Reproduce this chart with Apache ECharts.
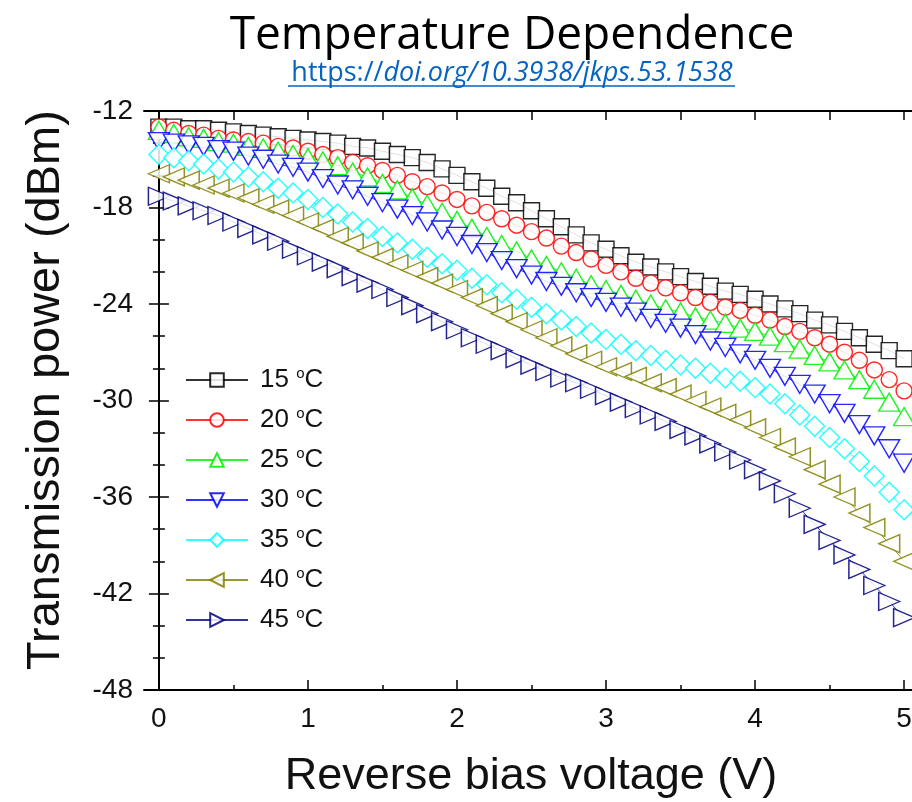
<!DOCTYPE html>
<html>
<head>
<meta charset="utf-8">
<script src="https://cdn.jsdelivr.net/npm/echarts@6/dist/echarts.min.js"></script>
<style>
html,body{margin:0;padding:0;background:#fff;}
#chart{width:912px;height:802px;}
</style>
</head>
<body>
<div id="chart"></div>
<script>
const voltages = [0.0,0.1,0.2,0.3,0.4,0.5,0.6,0.7,0.8,0.9,1.0,1.1,1.2,1.3,1.4,1.5,1.6,1.7,1.8,1.9,2.0,2.1,2.2,2.3,2.4,2.5,2.6,2.7,2.8,2.9,3.0,3.1,3.2,3.3,3.4,3.5,3.6,3.7,3.8,3.9,4.0,4.1,4.2,4.3,4.4,4.5,4.6,4.7,4.8,4.9,5.0];

const t15 = [-13.0,-13.0,-13.1,-13.1,-13.2,-13.3,-13.4,-13.5,-13.6,-13.7,-13.8,-13.9,-14.0,-14.2,-14.3,-14.5,-14.7,-14.9,-15.2,-15.6,-16.0,-16.4,-16.8,-17.3,-17.7,-18.2,-18.7,-19.2,-19.7,-20.2,-20.6,-21.0,-21.4,-21.7,-22.0,-22.3,-22.6,-22.9,-23.2,-23.4,-23.7,-24.0,-24.3,-24.6,-25.0,-25.3,-25.7,-26.1,-26.5,-26.9,-27.4];
const t20 = [-13.0,-13.2,-13.4,-13.5,-13.7,-13.8,-13.9,-14.0,-14.2,-14.3,-14.5,-14.7,-14.9,-15.2,-15.4,-15.7,-16.0,-16.4,-16.7,-17.1,-17.5,-17.9,-18.3,-18.7,-19.1,-19.5,-19.9,-20.4,-20.8,-21.2,-21.6,-22.0,-22.4,-22.7,-23.0,-23.3,-23.6,-23.9,-24.2,-24.4,-24.7,-25.0,-25.4,-25.7,-26.1,-26.5,-27.0,-27.5,-28.1,-28.7,-29.4];
const t25 = [-13.2,-13.4,-13.6,-13.7,-13.9,-14.0,-14.2,-14.3,-14.5,-14.7,-14.9,-15.1,-15.4,-15.8,-16.1,-16.5,-16.9,-17.4,-17.8,-18.3,-18.8,-19.3,-19.8,-20.3,-20.7,-21.2,-21.6,-22.0,-22.4,-22.8,-23.1,-23.4,-23.7,-24.0,-24.3,-24.5,-24.8,-25.0,-25.2,-25.5,-25.7,-26.0,-26.4,-26.8,-27.2,-27.6,-28.1,-28.7,-29.3,-30.1,-31.0];
const t30 = [-13.9,-14.0,-14.1,-14.2,-14.4,-14.5,-14.8,-15.0,-15.3,-15.5,-15.8,-16.2,-16.6,-16.9,-17.3,-17.7,-18.1,-18.5,-18.9,-19.4,-19.8,-20.3,-20.8,-21.3,-21.8,-22.2,-22.6,-22.9,-23.3,-23.6,-23.9,-24.2,-24.5,-24.9,-25.2,-25.5,-25.9,-26.3,-26.7,-27.1,-27.5,-28.0,-28.5,-29.0,-29.6,-30.2,-30.8,-31.5,-32.2,-33.0,-33.9];
const t35 = [-14.7,-14.9,-15.1,-15.3,-15.6,-15.8,-16.1,-16.4,-16.8,-17.1,-17.5,-18.0,-18.4,-18.9,-19.3,-19.8,-20.2,-20.6,-21.1,-21.5,-21.9,-22.4,-22.8,-23.3,-23.7,-24.2,-24.6,-25.0,-25.4,-25.8,-26.2,-26.5,-26.9,-27.2,-27.5,-27.8,-28.0,-28.3,-28.6,-28.8,-29.2,-29.6,-30.2,-30.9,-31.6,-32.3,-33.0,-33.8,-34.7,-35.7,-36.8];
const t40 = [-15.9,-16.1,-16.3,-16.6,-16.8,-17.1,-17.4,-17.8,-18.1,-18.5,-18.9,-19.3,-19.8,-20.2,-20.7,-21.1,-21.5,-21.9,-22.3,-22.7,-23.1,-23.6,-24.1,-24.6,-25.1,-25.6,-26.1,-26.6,-27.1,-27.5,-27.9,-28.2,-28.5,-28.9,-29.2,-29.6,-30.0,-30.4,-30.8,-31.2,-31.7,-32.3,-32.9,-33.5,-34.3,-35.2,-36.0,-37.0,-37.9,-38.9,-40.0];
const t45 = [-17.3,-17.6,-17.9,-18.2,-18.5,-18.9,-19.3,-19.7,-20.1,-20.6,-21.0,-21.4,-21.8,-22.3,-22.7,-23.1,-23.6,-24.1,-24.6,-25.1,-25.6,-26.1,-26.5,-26.9,-27.4,-27.8,-28.2,-28.6,-28.9,-29.3,-29.7,-30.1,-30.5,-30.9,-31.3,-31.8,-32.2,-32.7,-33.2,-33.7,-34.3,-35.0,-35.8,-36.7,-37.7,-38.7,-39.6,-40.5,-41.5,-42.5,-43.5];

const seriesNames = ['15 °C','20 °C','25 °C','30 °C','35 °C','40 °C','45 °C'];
const seriesValues = [t15,t20,t25,t30,t35,t40,t45];
const xTickLabels = [0,1,2,3,4,5];
const xMinorTicks = [0.5,1.5,2.5,3.5,4.5];
const xTopTicks = [0,0.5,1,1.5,2,2.5,3,3.5,4,4.5,5];

const titleText = 'Temperature Dependence';
const linkPrefix = 'https://';
const linkRest = 'doi.org/10.3938/jkps.53.1538';
const xName = 'Reverse bias voltage (V)';
const yName = 'Transmission power (dBm)';

const colors = ['#000000','#ff0000','#00ee00','#0000ff','#00ffff','#808000','#000080'];
const symbols = ['rect','circle','triangle','triangle','diamond','triangle','triangle'];
const rotations = [0,0,0,180,0,90,-90];
const sizes = [16,16,[21,18],[21,18],20,[18,21],[18,21]];

const chart = echarts.init(document.getElementById('chart'), null, {renderer:'canvas'});
const FONT = '"Liberation Sans", Arial, sans-serif';

const series = seriesValues.map((vals, i) => ({
  name: seriesNames[i],
  type: 'line',
  xAxisIndex: 0,
  yAxisIndex: 0,
  data: voltages.map((v, j) => [v, vals[j]]),
  symbol: symbols[i],
  symbolRotate: rotations[i],
  symbolSize: sizes[i],
  showAllSymbol: true,
  lineStyle: {color: colors[i], width: 1, opacity: 0.8},
  itemStyle: {color: '#ffffff', borderColor: colors[i], borderWidth: 1.4, opacity: 0.85},
  emphasis: {disabled: true},
  animation: false,
  z: 2
}));

const axisLineStyle = {show: true, lineStyle: {color: '#000', width: 2}};

const option = {
  animation: false,
  backgroundColor: '#fff',
  grid: {left: 144, top: 111, width: 775, height: 579, containLabel: false, outerBoundsMode: 'none'},
  xAxis: [
    {
      type: 'value', min: -0.1, max: 5.1, position: 'bottom',
      axisLine: axisLineStyle,
      axisTick: {show: true, inside: true, length: 10, customValues: xTickLabels, lineStyle: {color: '#000', width: 1.5}},
      axisLabel: {show: true, customValues: xTickLabels, margin: 15, color: '#111', fontSize: 28, fontFamily: FONT},
      splitLine: {show: false}
    },
    {
      type: 'value', min: -0.1, max: 5.1, position: 'bottom',
      axisLine: {show: false},
      axisTick: {show: true, inside: true, length: 5, customValues: xMinorTicks, lineStyle: {color: '#000', width: 1.5}},
      axisLabel: {show: false},
      splitLine: {show: false}
    },
    {
      type: 'value', min: -0.1, max: 5.1, position: 'top',
      axisLine: axisLineStyle,
      axisTick: {show: true, inside: true, length: 9, customValues: xTopTicks, lineStyle: {color: '#000', width: 1.5}},
      axisLabel: {show: false},
      splitLine: {show: false}
    }
  ],
  yAxis: [
    {
      type: 'value', min: -48, max: -12, interval: 6, position: 'left',
      axisLine: axisLineStyle,
      axisTick: {show: true, inside: true, length: 10, lineStyle: {color: '#000', width: 1.5}},
      minorTick: {show: true, splitNumber: 3, length: 6, lineStyle: {color: '#000', width: 1.5}},
      axisLabel: {show: true, margin: 11, color: '#111', fontSize: 28, fontFamily: FONT},
      splitLine: {show: false},
      minorSplitLine: {show: false}
    },
    {
      type: 'value', min: -48, max: -12, interval: 6, position: 'right',
      axisLine: axisLineStyle,
      axisTick: {show: true, inside: true, length: 10, lineStyle: {color: '#000', width: 1.5}},
      minorTick: {show: true, splitNumber: 3, length: 6, lineStyle: {color: '#000', width: 1.5}},
      axisLabel: {show: false},
      splitLine: {show: false}
    }
  ],
  legend: {
    orient: 'vertical',
    left: 180, top: 361,
    itemWidth: 62, itemHeight: 17, itemGap: 13,
    data: seriesNames,
    formatter: function (name) {
      const num = name.split(' ')[0];
      return '{n|' + num + ' }{s|o}{n|C}';
    },
    textStyle: {
      padding: [0, 0, 0, 7],
      rich: {
        n: {fontSize: 26, fontFamily: FONT, color: '#111', lineHeight: 28},
        s: {fontSize: 15, fontFamily: FONT, color: '#111', lineHeight: 15, verticalAlign: 'top'}
      }
    }
  },
  graphic: [
    {
      type: 'text', x: 512, y: 36, z: 10,
      style: {text: titleText, font: '46px "Open Sans", sans-serif', fill: '#000', align: 'center', verticalAlign: 'middle'}
    },
    {
      type: 'text', x: 512, y: 73, z: 10,
      style: {
        text: '{a|' + linkPrefix + '}{b|' + linkRest + '}',
        align: 'center', verticalAlign: 'middle',
        rich: {
          a: {fontSize: 27, fontFamily: '"Open Sans", sans-serif', fill: '#0563C1'},
          b: {fontSize: 27, fontFamily: '"Open Sans", sans-serif', fontStyle: 'italic', fill: '#0563C1'}
        }
      }
    },
    {
      type: 'line', z: 10,
      shape: {x1: 288, y1: 86, x2: 735, y2: 86},
      style: {stroke: '#0563C1', lineWidth: 1.5}
    },
    {
      type: 'text', x: 531, y: 777, z: 10,
      style: {text: xName, font: '45px "Liberation Sans", Arial, sans-serif', fill: '#111', align: 'center', verticalAlign: 'middle'}
    },
    {
      type: 'text', x: 46, y: 390, rotation: Math.PI / 2, z: 10,
      style: {text: yName, font: '47px "Liberation Sans", Arial, sans-serif', fill: '#111', align: 'center', verticalAlign: 'middle'}
    }
  ],
  series: series
};
chart.setOption(option);
</script>
</body>
</html>
